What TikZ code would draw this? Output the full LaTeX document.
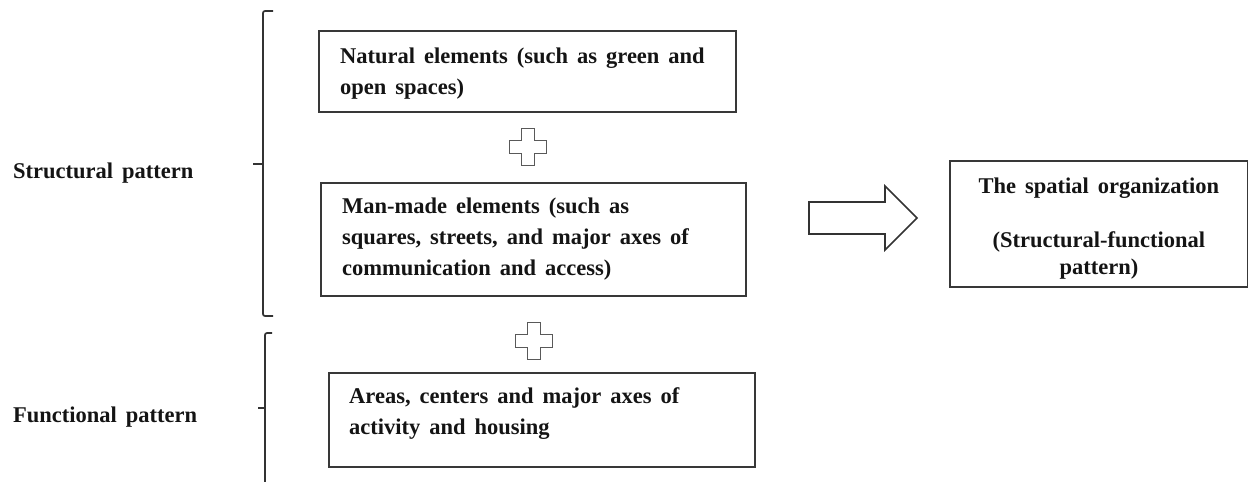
\documentclass[tikz,border=0pt]{standalone}
\usepackage{fontspec}
\setmainfont{Liberation Serif}
\newcommand{\widesp}{\spaceskip=0.4em\relax}
\begin{document}
\begin{tikzpicture}[x=1pt,y=-1pt,
  box/.style={draw=black!78,line width=1.8pt,inner sep=0pt,anchor=north west},
  txt/.style={inner sep=0pt,anchor=north west,align=left,text=black!92,
    font=\fontsize{22.5}{31}\selectfont\bfseries},
  rtxt/.style={inner sep=0pt,anchor=north,align=center,text=black!92,
    font=\fontsize{22.5}{27}\selectfont\bfseries},
  lbl/.style={inner sep=0pt,anchor=base west,text=black!92,
    font=\fontsize{22.5}{27}\selectfont\bfseries},
  brack/.style={draw=black!80,line width=1.7pt,rounded corners=2pt},
  plusshape/.style={draw=black!65,line width=1.3pt,fill=white},
  blockarrow/.style={draw=black!80,line width=1.6pt,fill=white}]
\useasboundingbox (0,0) rectangle (1248,482);

% boxes
\node[box,minimum width=417pt,minimum height=81pt] (b1) at (318,30) {};
\node[box,minimum width=425pt,minimum height=113pt] (b2) at (320,182) {};
\node[box,minimum width=426pt,minimum height=94pt] (b3) at (328,372) {};
\node[box,minimum width=298pt,minimum height=126pt] (b4) at (949,160) {};

% box texts
\node[txt] (t1) at ([xshift=22pt,yshift=-17.5pt]b1.north west)
  {\widesp Natural elements (such as green and\\\widesp open spaces)};
\node[txt] (t2) at ([xshift=22pt,yshift=-15.5pt]b2.north west)
  {\widesp Man-made elements (such as\\\widesp squares, streets, and major axes of\\\widesp communication and access)};
\node[txt] (t3) at ([xshift=21pt,yshift=-15.5pt]b3.north west)
  {\widesp Areas, centers and major axes of\\\widesp activity and housing};
\node[rtxt] (t4) at ([yshift=-17.5pt]b4.north)
  {\widesp The spatial organization\\[27pt]\widesp (Structural-functional\\pattern)};

% left labels
\node[lbl] (l1) at (13,178) {\widesp Structural pattern};
\node[lbl] (l2) at (13,422) {\widesp Functional pattern};

% brackets
\draw[brack] (273,11) -- (263,11) -- (263,316) -- (273,316);
\draw[brack] (263,164) -- (253,164);
\draw[brack] (272,333) -- (265,333) -- (265,490);
\draw[brack] (265,408) -- (258,408);

% plus signs
\coordinate (p1) at (528,147);
\coordinate (p2) at (534,341);
\foreach \c in {p1,p2}{
  \draw[plusshape] ([shift={(-6.2,-18.5)}]\c) -- ([shift={(6.2,-18.5)}]\c)
    -- ([shift={(6.2,-6.2)}]\c) -- ([shift={(18.5,-6.2)}]\c)
    -- ([shift={(18.5,6.2)}]\c) -- ([shift={(6.2,6.2)}]\c)
    -- ([shift={(6.2,18.5)}]\c) -- ([shift={(-6.2,18.5)}]\c)
    -- ([shift={(-6.2,6.2)}]\c) -- ([shift={(-18.5,6.2)}]\c)
    -- ([shift={(-18.5,-6.2)}]\c) -- ([shift={(-6.2,-6.2)}]\c) -- cycle;
}

% block arrow
\draw[blockarrow,line join=miter] (809,202) -- (885,202) -- (885,186) -- (917,218)
  -- (885,250) -- (885,234) -- (809,234) -- cycle;
\end{tikzpicture}
\end{document}
